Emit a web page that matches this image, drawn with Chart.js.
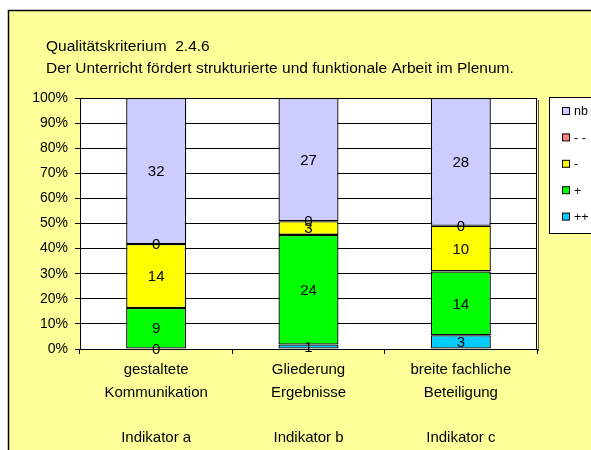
<!DOCTYPE html>
<html>
<head>
<meta charset="utf-8">
<script src="https://cdn.jsdelivr.net/npm/chart.js@4/dist/chart.umd.min.js"></script>
<style>
html,body{margin:0;padding:0;background:#fff;}
#wrap{width:591px;height:450px;position:relative;}
</style>
</head>
<body>
<div id="wrap"><canvas id="c" width="591" height="450"></canvas></div>
<script>
const categories = [
  ["gestaltete", "Kommunikation", "", "Indikator a"],
  ["Gliederung", "Ergebnisse", "", "Indikator b"],
  ["breite fachliche", "Beteiligung", "", "Indikator c"]
];
const titleLines = ["Qualitätskriterium  2.4.6", "Der Unterricht fördert strukturierte und funktionale Arbeit im Plenum."];
const seriesNames = ["++", "+", "-", "- -", "nb"];
const valuesPlusPlus = [0, 1, 3];
const valuesPlus = [9, 24, 14];
const valuesMinus = [14, 3, 10];
const valuesMinusMinus = [0, 0, 0];
const valuesNb = [32, 27, 28];
const seriesColors = ["#00CCFF", "#00FF00", "#FFFF00", "#FF8080", "#CCCCFF"];
const yTicks = [0, 10, 20, 30, 40, 50, 60, 70, 80, 90, 100];

const rawSeries = [valuesPlusPlus, valuesPlus, valuesMinus, valuesMinusMinus, valuesNb];
const totals = categories.map((_, i) => rawSeries.reduce((s, arr) => s + arr[i], 0));
const datasets = rawSeries.map((arr, k) => ({
  label: seriesNames[k],
  data: arr.map((v, i) => v / totals[i] * 100),
  raw: arr,
  backgroundColor: seriesColors[k],
  borderColor: "#000",
  borderWidth: 1.3,
  borderSkipped: false,
  barPercentage: 0.394,
  categoryPercentage: 1.0
}));

const FONT = "'Liberation Sans', Arial, sans-serif";

const bgPlugin = {
  id: "bg",
  beforeDraw(chart) {
    const ctx = chart.ctx;
    ctx.save();
    ctx.fillStyle = "#fff";
    ctx.fillRect(0, 0, chart.width, chart.height);
    ctx.fillStyle = "#FFFF99";
    ctx.fillRect(8, 10, chart.width - 8, chart.height - 10);
    ctx.strokeStyle = "#000";
    ctx.lineWidth = 1.5;
    ctx.beginPath();
    ctx.moveTo(8.5, chart.height);
    ctx.lineTo(8.5, 10.5);
    ctx.lineTo(chart.width, 10.5);
    ctx.stroke();
    const a = chart.chartArea;
    ctx.fillStyle = "#fff";
    ctx.fillRect(a.left, a.top, a.right - a.left, a.bottom - a.top);
    // title
    ctx.fillStyle = "#000";
    ctx.font = "15.5px " + FONT;
    ctx.textBaseline = "alphabetic";
    ctx.textAlign = "left";
    ctx.fillText(titleLines[0], 46, 51);
    ctx.fillText(titleLines[1], 46, 72.5);
    ctx.restore();
  },
  afterDatasetsDraw(chart) {
    const ctx = chart.ctx;
    const a = chart.chartArea;
    ctx.save();
    // plot border
    ctx.strokeStyle = "#000";
    ctx.lineWidth = 1;
    ctx.strokeRect(a.left + 0.5, a.top + 0.5, a.right - a.left - 1, a.bottom - a.top);
    ctx.strokeStyle = "#555";
    ctx.beginPath();
    ctx.moveTo(a.right + 1.5, a.top + 2);
    ctx.lineTo(a.right + 1.5, a.bottom + 2);
    ctx.stroke();
    // data labels
    ctx.fillStyle = "#000";
    ctx.font = "15px " + FONT;
    ctx.textAlign = "center";
    ctx.textBaseline = "middle";
    chart.data.datasets.forEach((ds, k) => {
      const meta = chart.getDatasetMeta(k);
      meta.data.forEach((bar, i) => {
        const y = (bar.y + bar.base) / 2;
        ctx.fillText(String(ds.raw[i]), bar.x, y + 1);
      });
    });
    // legend
    const lx = 549, ly = 97, lw = 50, lh = 136;
    ctx.fillStyle = "#fff";
    ctx.fillRect(lx, ly, lw, lh);
    ctx.strokeStyle = "#000";
    ctx.lineWidth = 1;
    ctx.strokeRect(lx + 0.5, ly + 0.5, lw, lh);
    const order = chart.data.datasets.map((d, k) => k).reverse();
    ctx.font = "12.5px " + FONT;
    ctx.textAlign = "left";
    order.forEach((k, j) => {
      const ds = chart.data.datasets[k];
      const cy = 111 + j * 26.4;
      ctx.fillStyle = ds.backgroundColor;
      ctx.fillRect(562.5, cy - 3.5, 7, 7);
      ctx.strokeStyle = "#000";
      ctx.strokeRect(562.5, cy - 3.5, 7, 7);
      ctx.fillStyle = "#000";
      ctx.fillText(ds.label, 574, cy + 1);
    });
    ctx.restore();
  }
};

new Chart(document.getElementById("c"), {
  type: "bar",
  data: { labels: categories, datasets },
  plugins: [bgPlugin],
  options: {
    responsive: false,
    animation: false,
    devicePixelRatio: 1,
    layout: { padding: { left: 0, top: 98, right: 54, bottom: 0 } },
    plugins: { legend: { display: false }, title: { display: false }, tooltip: { enabled: false } },
    scales: {
      x: {
        stacked: true,
        grid: { drawOnChartArea: false, drawTicks: true, tickLength: 5, color: "#000", offset: true },
        border: { color: "#000" },
        ticks: { color: "#000", font: { family: FONT, size: 15, lineHeight: 1.53 }, padding: 4, maxRotation: 0, autoSkip: false },
        afterFit(s) { s.height = 101; }
      },
      y: {
        stacked: true,
        min: 0, max: 100,
        afterBuildTicks(s) { s.ticks = yTicks.map(v => ({ value: v })); },
        grid: { color: "#000", tickLength: 5, lineWidth: 1 },
        border: { color: "#000" },
        ticks: { color: "#000", font: { family: FONT, size: 14 }, padding: 7, callback: v => v + "%" },
        afterFit(s) { s.width = 80; }
      }
    }
  }
});
</script>
</body>
</html>
